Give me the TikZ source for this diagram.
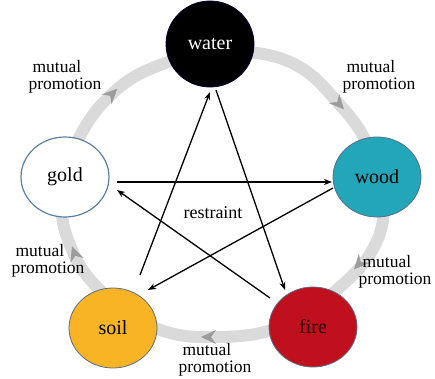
\documentclass[tikz,border=0pt]{standalone}
\usepackage{fontspec}
\setmainfont{Liberation Serif}
\usetikzlibrary{arrows.meta,shapes.geometric}
\definecolor{ringgray}{HTML}{DADADA}
\definecolor{headgray}{HTML}{9C9C9C}
\definecolor{woodc}{HTML}{22A6B8}
\definecolor{firec}{HTML}{C0101E}
\definecolor{soilc}{HTML}{F8B425}
\definecolor{goldedge}{HTML}{5A80A4}
\definecolor{edgec}{HTML}{5A6E88}
\tikzset{
  elem/.style={ellipse, minimum width=88pt, minimum height=80pt, inner sep=0pt,
    font=\fontsize{20}{20}\selectfont, draw=edgec, line width=0.8pt},
  lbl/.style={align=left, font=\fontsize{17.5}{17}\selectfont, inner sep=0pt},
  restr/.style={line width=1.3pt, -{Stealth[length=8pt,width=6pt]}},
  ring/.style={draw=ringgray, line width=12pt},
  ringhead/.style={fill=headgray}
}
\begin{document}
\begin{tikzpicture}[x=1pt,y=1pt]
\useasboundingbox (0,0) rectangle (435,378);
% ring
\draw[ring] plot[smooth cycle, tension=0.7] coordinates {
 (220,326) (290,316) (340,273) (370,228) (383,178) (375,133) (340,91)
 (285,53) (220,41) (155,50) (100,88) (70,133) (62,183) (78,238) (113,285) (160,313)};
% arrowheads on the ring
\foreach \px/\py/\ang in {113/285/45, 340/273/-48, 358/113/228, 207/41/180, 74/126/110}{
  \fill[ringhead, shift={(\px,\py)}, rotate=\ang] (6,0) -- (-9,7) -- (-4,0) -- (-9,-7) -- cycle;
}
% elements
\node[elem, fill=black, draw=black!80!blue, minimum width=88pt, minimum height=86pt, text=white] (water) at (210,334) {water};
\node[elem, fill=woodc] (wood) at (377,201) {wood};
\node[elem, fill=firec, text=black!85!red] (fire) at (313,51) {fire};
\node[elem, fill=soilc] (soil) at (113,50) {soil};
\node[elem, fill=white, draw=goldedge, line width=1.2pt] (gold) at (65,201) {gold};
% restraint star
\draw[restr] ([shift={(6,-46)}]water.center) -- ([shift={(-28,37)}]fire.center);
\draw[restr] ([shift={(-43,29)}]fire.center) -- ([shift={(52,-13)}]gold.center);
\draw[restr] ([shift={(52,-5)}]gold.center) -- ([shift={(-45,-5)}]wood.center);
\draw[restr] ([shift={(-44,-11)}]wood.center) -- ([shift={(35,38)}]soil.center);
\draw[restr] ([shift={(27,53)}]soil.center) -- ([shift={(0,-48)}]water.center);
% labels
\node[font=\fontsize{18}{18}\selectfont] (restraint) at (213,165) {restraint};
\node[lbl] (mp1) at (65,301) {\hspace*{4pt}mutual\\promotion};
\node[lbl] (mp2) at (379,301) {\hspace*{4pt}mutual\\promotion};
\node[lbl] (mp3) at (395,106) {\hspace*{4pt}mutual\\promotion};
\node[lbl] (mp4) at (215,18) {\hspace*{4pt}mutual\\promotion};
\node[lbl] (mp5) at (48,117) {\hspace*{4pt}mutual\\promotion};
\end{tikzpicture}
\end{document}
